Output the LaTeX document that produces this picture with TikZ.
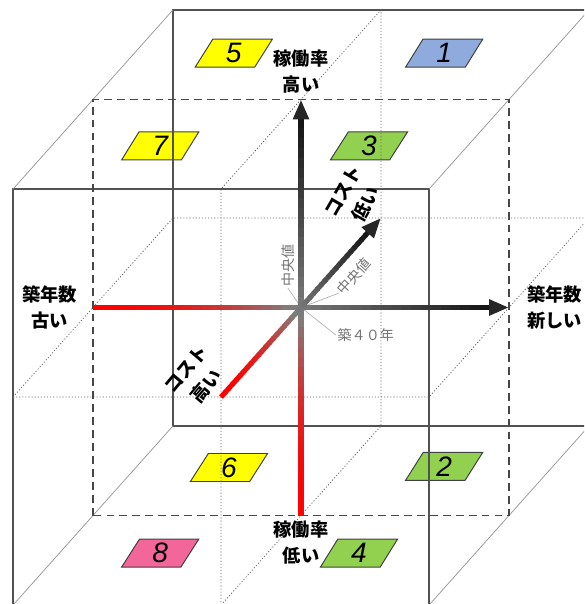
\documentclass[tikz,border=0pt]{standalone}
\usepackage{fontspec}
\setmainfont{Liberation Sans}
\newfontfamily\jpfont{Noto Sans CJK JP}
\newfontfamily\numfont{Liberation Sans}
\usepackage{tikz}
\usetikzlibrary{arrows.meta, positioning, shapes.geometric, calc}

\definecolor{mkyellow}{HTML}{FFFF00}
\definecolor{mkblue}{HTML}{8FAADC}
\definecolor{mkgreen}{HTML}{92D050}
\definecolor{mkpink}{HTML}{F2669A}

% axis drawn as a red-to-black blend, tip at the second point
\newcommand{\gradaxis}[2]{%
    \coordinate (#2base) at ($(#2)!0.47cm!(#1)$);
    \foreach \i in {0,...,39} {
        \pgfmathsetmacro\ta{\i/40}
        \pgfmathsetmacro\tb{min(1,(\i+1.4)/40)}
        \pgfmathsetmacro\tm{(\i+0.5)/40}
        \ifdim\tm pt<0.5pt
            \pgfmathtruncatemacro\mix{100*(1-(2*\tm)^2)}
            \draw[axisline, draw=red!\mix!gray] ($(#1)!\ta!(#2base)$) -- ($(#1)!\tb!(#2base)$);
        \else
            \pgfmathtruncatemacro\mix{100-170*(\tm-0.5)}
            \draw[axisline, draw=gray!\mix!black] ($(#1)!\ta!(#2base)$) -- ($(#1)!\tb!(#2base)$);
        \fi
    }
    \draw[axistip] (#2base) -- (#2);
}

\begin{document}
\begin{tikzpicture}[
    face/.style={draw=black!68, line width=0.9pt},
    midface/.style={draw=black!72, line width=1.1pt, dash pattern=on 5.6pt off 3.6pt},
    depthedge/.style={draw=black!42, line width=0.5pt},
    median/.style={draw=black!60, line width=0.55pt, dash pattern=on 0.8pt off 1.4pt},
    leader/.style={draw=black!30, line width=0.5pt},
    axisline/.style={line width=3.6pt},
    axistip/.style={draw=black!85, line width=3.6pt, -{Triangle[length=0.5cm, width=0.38cm]}},
    marker/.style={trapezium, trapezium left angle=48, trapezium right angle=132,
        trapezium stretches body=true, draw=black!75, line width=0.7pt, inner sep=0pt,
        minimum height=0.7cm, minimum width=1.93cm,
        font=\numfont\itshape\fontsize{20}{20}\selectfont},
    axislabel/.style={font=\jpfont\bfseries\fontsize{13}{18.5}\selectfont, align=center},
    smalllabel/.style={font=\jpfont\fontsize{10}{11}\selectfont, text=black!55, inner sep=1pt}
]
    \useasboundingbox (-7.525,-7.4125) rectangle (7.075,7.6875);
    \clip (-7.525,-7.4125) rectangle (7.075,7.6875);

    \coordinate (O) at (0,0);
    \coordinate (xlo) at (-5.2,0);
    \coordinate (xhi) at (5.2,0);
    \coordinate (ylo) at (0,-5.2);
    \coordinate (yhi) at (0,5.2);
    \coordinate (zlo) at (-2,-2.24);
    \coordinate (zhi) at (2,2.24);

    % Buildings
    \foreach \n/\x/\y/\col in {1/3.58/6.36/mkblue, 2/3.58/-3.97/mkgreen, 3/1.7/4.04/mkgreen,
        4/1.45/-6.14/mkgreen, 5/-1.68/6.36/mkyellow, 6/-1.8/-4.0/mkyellow,
        7/-3.52/4.04/mkyellow, 8/-3.52/-6.14/mkpink}
        \node[marker, fill=\col] (m\n) at (\x,\y) {\n};

    % Cube
    \draw[face] (-7.2,-7.44) rectangle (3.2,2.96);
    \draw[face] (-3.2,-2.96) rectangle (7.2,7.44);
    \foreach \x/\y in {-7.2/-7.44, 3.2/-7.44, -7.2/2.96, 3.2/2.96}
        \draw[depthedge] (\x,\y) -- ++(4,4.48);
    \draw[midface] (-5.2,-5.2) rectangle (5.2,5.2);

    % Median planes
    \draw[median] (-2,-7.44) -- (-2,2.96) -- (2,7.44) -- (2,-2.96) -- cycle;
    \draw[median] (-7.2,-2.24) -- (3.2,-2.24) -- (7.2,2.24) -- (-3.2,2.24) -- cycle;

    % Median labels
    \node[smalllabel, rotate=90] (medY) at (-0.33,1.06) {中央値};
    \node[smalllabel, rotate=48] (medZ) at (1.32,0.78) {中央値};
    \node[smalllabel] (age40) at (1.62,-0.69) {築４０年};
    \draw[leader] (O) -- (medY.west);
    \draw[leader] (O) -- (medZ.west);
    \draw[leader] (O) -- (age40.west);

    % Axes
    \gradaxis{xlo}{xhi}
    \gradaxis{ylo}{yhi}
    \gradaxis{zlo}{zhi}

    % Labels
    \node[axislabel, above=0.02cm of yhi] (rateHi) {稼働率\\高い};
    \node[axislabel, below=0.02cm of ylo] (rateLo) {稼働率\\低い};
    \node[axislabel, right=0.33cm of xhi] (ageNew) {築年数\\新しい};
    \node[axislabel, left=0.28cm of xlo] (ageOld) {築年数\\古い};
    \node[axislabel, rotate=60] (costLo) at (1.35,2.74) {コスト\\低い};
    \node[axislabel, rotate=50] (costHi) at (-2.61,-1.75) {コスト\\高い};
\end{tikzpicture}
\end{document}
